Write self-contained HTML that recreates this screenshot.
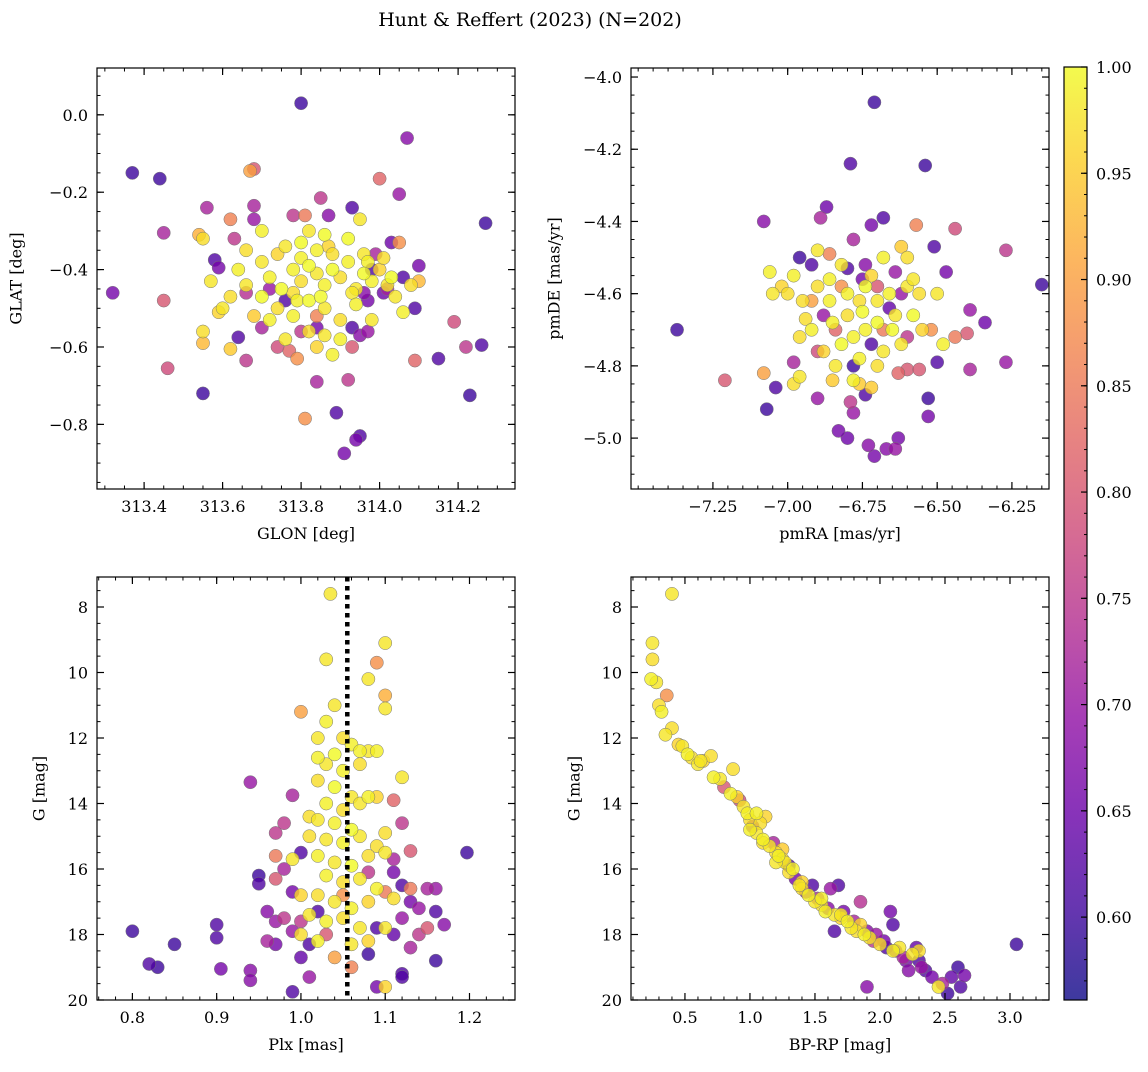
<!DOCTYPE html>
<html><head><meta charset="utf-8"><style>
html,body{margin:0;padding:0;background:#fff}
svg text{font-family:"DejaVu Serif","Liberation Serif",serif;fill:#000}
</style></head><body>
<svg id="fig" width="1148" height="1067" viewBox="0 0 1148 1067" xmlns="http://www.w3.org/2000/svg">
<text x="530" y="26" font-size="19" text-anchor="middle">Hunt &amp; Reffert (2023) (N=202)</text>
</svg>
<script>
// Panel 1: GLON / GLAT / prob
const p1 = [
[313.80,0.03,.6],[313.37,-0.15,.6],[313.44,-0.165,.6],[313.32,-0.46,.66],[314.27,-0.28,.6],[314.07,-0.06,.68],[313.68,-0.14,.8],[313.67,-0.145,.9],[314.0,-0.165,.82],[314.05,-0.205,.7],[313.45,-0.305,.72],[313.45,-0.48,.8],[313.46,-0.655,.78],[313.55,-0.72,.6],[313.81,-0.785,.88],[313.89,-0.77,.62],[313.91,-0.875,.66],[313.94,-0.84,.66],[313.95,-0.83,.62],[313.92,-0.685,.75],[313.84,-0.69,.72],[314.15,-0.63,.62],[314.23,-0.725,.6],[314.26,-0.595,.62],[314.19,-0.535,.78],[314.22,-0.6,.75],[314.09,-0.635,.82],[314.09,-0.5,.62],[314.1,-0.39,.66],[314.06,-0.42,.62],[314.03,-0.33,.65],[314.05,-0.33,.88],[313.56,-0.24,.72],[313.58,-0.375,.62],[313.59,-0.395,.66],[313.62,-0.27,.86],[313.63,-0.32,.75],[313.68,-0.235,.72],[313.68,-0.27,.7],[313.78,-0.26,.75],[313.81,-0.26,.85],[313.85,-0.215,.75],[313.87,-0.26,.68],[313.93,-0.24,.62],[313.95,-0.27,.98],[313.64,-0.575,.62],[313.66,-0.635,.75],[313.62,-0.605,.95],[313.55,-0.56,.97],[313.55,-0.59,.93],[313.54,-0.31,.92],[313.55,-0.32,.97],[313.57,-0.43,.98],[313.6,-0.5,.98],[313.59,-0.51,.96],
[313.70,-0.38,.98],[313.72,-0.42,.99],[313.75,-0.45,1],[313.78,-0.40,.99],[313.80,-0.43,.97],[313.82,-0.39,1],[313.84,-0.41,.98],[313.86,-0.44,.99],[313.88,-0.40,1],[313.90,-0.42,.97],[313.92,-0.38,.99],[313.94,-0.45,.98],[313.96,-0.41,1],[313.98,-0.43,.99],[314.00,-0.40,.96],[314.02,-0.44,.98],[313.74,-0.50,.97],[313.78,-0.52,.99],[313.82,-0.48,1],[313.86,-0.50,.98],[313.90,-0.53,.97],[313.94,-0.49,.99],[313.70,-0.47,1],[313.66,-0.44,.98],[313.68,-0.52,.95],[313.72,-0.53,.99],[313.76,-0.34,.98],[313.80,-0.33,1],[313.84,-0.35,.99],[313.88,-0.36,.97],[313.92,-0.32,1],[313.96,-0.36,.98],[313.66,-0.35,.97],[313.70,-0.30,.99],[313.74,-0.36,.96],[313.82,-0.30,.98],[313.86,-0.31,1],[313.90,-0.58,.99],[313.86,-0.57,.98],[313.82,-0.56,.97],[313.88,-0.62,.99],[313.84,-0.60,.96],[314.04,-0.47,.98],[314.06,-0.51,.99],[314.03,-0.42,1],[314.08,-0.44,.97],[314.10,-0.43,.93],[313.98,-0.53,.98],[313.64,-0.40,.99],[313.62,-0.47,.97],[313.76,-0.58,.98],[313.78,-0.46,.97],[313.80,-0.37,.99],[313.85,-0.47,1],[313.93,-0.46,.98],[313.97,-0.38,.99],[314.01,-0.37,.97],[313.87,-0.34,.96],[313.79,-0.48,.99],
[313.72,-0.45,.7],[313.76,-0.48,.62],[313.80,-0.56,.75],[313.84,-0.55,.66],[313.93,-0.55,.62],[313.97,-0.56,.7],[313.93,-0.60,.8],[313.96,-0.46,.68],[314.01,-0.46,.65],[313.70,-0.55,.72],[313.66,-0.46,.74],[313.74,-0.60,.78],[313.77,-0.61,.82],[313.79,-0.63,.88],[313.84,-0.52,.86],[313.98,-0.40,.62],[314.02,-0.45,.72],[313.97,-0.48,.66],[313.99,-0.36,.72],[313.95,-0.57,.68]
];
// Panel 2: pmRA / pmDE / prob
const p2 = [
[-6.71,-4.07,.6],[-6.79,-4.24,.62],[-6.54,-4.245,.6],[-7.37,-4.7,.6],[-6.15,-4.575,.6],[-6.27,-4.48,.75],[-6.27,-4.79,.7],[-6.34,-4.68,.65],[-6.39,-4.645,.7],[-6.4,-4.71,.8],[-6.39,-4.81,.72],[-6.44,-4.42,.78],[-6.47,-4.54,.66],[-6.51,-4.47,.62],[-6.5,-4.79,.62],[-6.53,-4.89,.6],[-6.53,-4.94,.66],[-6.57,-4.41,.86],[-7.08,-4.4,.68],[-6.89,-4.39,.72],[-6.87,-4.36,.65],[-6.72,-4.41,.66],[-6.68,-4.39,.62],[-7.21,-4.84,.8],[-7.07,-4.92,.6],[-7.04,-4.86,.62],[-7.08,-4.82,.9],[-6.98,-4.79,.72],[-6.9,-4.89,.7],[-6.83,-4.98,.66],[-6.8,-5.0,.65],[-6.73,-5.02,.68],[-6.71,-5.05,.66],[-6.67,-5.03,.68],[-6.64,-5.03,.7],[-6.63,-5.0,.66],[-6.78,-4.93,.7],[-6.79,-4.9,.75],[-6.74,-4.88,.62],[-6.6,-4.81,.8],[-6.56,-4.81,.8],[-6.63,-4.82,.82],[-6.76,-4.85,.95],
[-6.75,-4.65,1],[-6.80,-4.60,.99],[-6.70,-4.62,.98],[-6.85,-4.68,.99],[-6.65,-4.70,1],[-6.90,-4.58,.97],[-6.60,-4.58,.98],[-6.78,-4.72,.99],[-6.72,-4.55,.96],[-6.82,-4.52,.98],[-6.68,-4.50,.99],[-6.95,-4.62,.97],[-6.92,-4.70,.99],[-6.58,-4.66,1],[-6.62,-4.74,.98],[-6.88,-4.76,.96],[-6.76,-4.78,.99],[-6.70,-4.80,.97],[-6.84,-4.80,.98],[-6.98,-4.55,.99],[-7.0,-4.6,.97],[-7.02,-4.58,.96],[-7.05,-4.6,.98],[-6.66,-4.60,.99],[-6.74,-4.58,1],[-6.80,-4.66,.97],[-6.86,-4.62,.99],[-6.64,-4.66,.98],[-6.56,-4.60,.97],[-6.55,-4.70,.96],[-6.50,-4.60,.98],[-6.48,-4.74,.99],[-6.60,-4.50,.97],[-6.62,-4.47,.95],[-6.90,-4.48,.98],[-6.86,-4.56,.99],[-6.94,-4.67,.97],[-6.82,-4.74,1],[-6.78,-4.84,.99],[-6.72,-4.86,.95],[-6.68,-4.76,.98],[-6.74,-4.70,.99],[-6.76,-4.62,.97],[-6.70,-4.68,1],[-6.96,-4.72,.97],[-7.06,-4.54,.99],[-6.58,-4.56,.98],[-6.52,-4.70,.88],[-6.44,-4.72,.85],[-6.92,-4.62,.9],[-6.96,-4.83,.98],[-6.98,-4.85,.97],[-6.85,-4.84,.95],
[-6.80,-4.53,.62],[-6.75,-4.56,.66],[-6.72,-4.74,.62],[-6.78,-4.80,.6],[-6.88,-4.66,.7],[-6.66,-4.64,.64],[-6.62,-4.60,.7],[-6.70,-4.58,.8],[-6.84,-4.70,.82],[-6.90,-4.76,.78],[-6.60,-4.72,.75],[-6.64,-4.54,.7],[-6.78,-4.45,.72],[-6.74,-4.52,.68],[-6.86,-4.49,.86],[-6.92,-4.52,.62],[-6.96,-4.50,.6],[-6.68,-4.70,.85],[-6.82,-4.58,.88]
];
// Panel 3: Plx / G / prob
const p3 = [
[0.80,17.9,.6],[0.82,18.9,.62],[0.83,19.0,.6],[0.85,18.3,.6],[0.9,17.7,.62],[0.9,18.1,.62],[0.905,19.05,.66],[0.94,19.1,.68],[0.94,19.4,.68],[0.94,13.35,.7],[0.99,19.75,.62],[1.197,15.5,.6],[1.16,18.8,.6],[1.12,19.2,.62],[1.13,16.6,.85],[1.13,15.45,.8],[1.10,9.1,.98],[1.08,10.2,.98],[1.09,9.7,.88],[1.10,10.7,.92],[1.10,11.1,.98],[1.035,7.6,.98],[1.03,9.6,.98],[1.00,11.2,.9],[0.99,13.75,.72],[0.97,14.9,.75],[0.97,15.6,.85],[0.95,16.2,.6],[0.95,16.45,.62],[1.10,19.6,.96],[1.09,19.6,.66],
[1.04,11.0,.98],[1.03,11.5,.99],[1.05,12.0,.97],[1.02,12.0,.98],[1.06,12.2,.99],[1.04,12.5,1],[1.03,12.8,.98],[1.05,13.0,.99],[1.07,12.8,.97],[1.08,12.4,.98],[1.09,12.4,.99],[1.02,13.3,.97],[1.04,13.5,1],[1.06,13.8,.98],[1.03,14.0,.99],[1.05,14.2,.97],[1.07,14.0,.98],[1.08,13.8,.99],[1.09,13.8,.96],[1.02,14.5,.98],[1.04,14.6,.99],[1.06,14.8,1],[1.01,15.0,.97],[1.03,15.1,.98],[1.05,15.2,.99],[1.07,15.0,.98],[1.09,15.3,.97],[1.02,15.6,.99],[1.04,15.8,.98],[1.06,15.9,1],[1.08,15.6,.97],[1.10,15.5,.98],[1.03,16.2,.99],[1.05,16.4,.97],[1.07,16.3,.98],[1.09,16.6,.99],[1.02,16.8,.97],[1.04,17.0,.98],[1.06,17.2,.99],[1.08,17.0,.96],[1.01,17.4,.98],[1.03,17.6,.99],[1.05,17.5,.97],[1.07,17.8,.98],[1.00,18.0,.97],[1.02,18.2,.99],[1.06,18.3,.98],[1.08,18.2,.96],[1.04,18.7,.9],[1.10,17.8,.98],[1.11,16.9,.97],[1.12,13.2,.98],[1.07,12.4,.99],[1.10,14.9,.97],[1.00,16.8,.96],[0.99,15.7,.98],[1.01,14.4,.97],[1.02,12.6,.99],
[0.96,17.3,.68],[0.97,17.6,.7],[0.98,17.5,.75],[0.96,18.2,.72],[0.97,18.3,.66],[0.99,17.9,.7],[1.0,17.6,.75],[1.01,18.3,.62],[1.0,18.7,.64],[0.99,16.7,.66],[1.0,15.5,.62],[0.98,16.0,.72],[0.97,16.3,.8],[1.01,19.3,.7],[1.02,17.3,.62],[1.12,16.5,.62],[1.13,17.0,.66],[1.14,17.2,.7],[1.15,16.6,.72],[1.16,17.3,.62],[1.17,17.7,.68],[1.11,18.0,.64],[1.12,17.5,.7],[1.13,18.4,.72],[1.14,18.0,.75],[1.15,17.8,.8],[1.11,16.1,.66],[1.11,15.7,.72],[1.08,16.1,.75],[1.1,16.7,.85],[1.12,14.6,.75],[1.11,13.9,.82],[1.12,19.3,.62],[1.16,16.6,.7],[0.98,14.6,.75],[1.09,17.8,.62],[1.08,18.6,.6],[1.06,19.0,.86],[1.03,18.0,.8],[1.05,16.8,.88]
];
// Panel 4: BP-RP / G / prob
const p4 = [
[0.4,7.6,.98],[0.25,9.1,.98],[0.25,9.6,.97],[0.24,10.2,.99],[0.28,10.3,.98],[0.3,11.0,.97],[0.36,10.7,.88],[0.32,11.2,.99],[0.35,11.9,.98],[0.4,11.7,.97],[0.45,12.2,.96],[0.48,12.25,.98],[0.52,12.5,.99],[0.55,12.6,.97],[0.6,12.8,.98],[0.64,12.7,.96],[0.7,12.55,.97],[0.72,13.2,.99],[0.77,13.25,.98],[0.8,13.5,.8],[0.87,12.95,.97],[0.9,13.8,.96],[0.92,13.9,.78],[0.95,14.1,.98],[0.98,14.3,.99],[1.0,14.5,.97],[1.02,14.7,.7],[1.05,14.9,.98],[1.08,14.6,.97],[1.1,15.1,.99],[1.12,14.4,.96],[1.15,15.3,.98],[1.18,15.2,.72],[1.2,15.5,.97],[1.22,15.6,.99],[1.25,15.4,.95],[1.27,15.8,.98],[1.3,15.9,.62],[1.3,16.1,.97],[1.33,16.0,.99],[1.35,16.3,.66],[1.38,16.5,.98],[1.4,16.4,.96],[1.43,16.7,.7],[1.45,16.8,.99],[1.48,16.5,.62],[1.5,17.0,.98],[1.52,16.9,.72],[1.55,17.1,.97],[1.58,17.3,.99],[1.6,17.2,.68],[1.62,16.6,.7],[1.65,17.4,.98],[1.68,16.5,.62],[1.7,17.5,.96],[1.72,17.3,.66],[1.75,17.6,.99],[1.78,17.8,.98],[1.8,17.6,.72],[1.82,17.9,.97],[1.85,17.0,.74],[1.88,18.0,.99],[1.9,17.9,.68],[1.92,18.1,.98],[1.95,18.2,.75],[1.97,18.0,.7],[2.0,18.3,.97],[2.03,18.2,.66],[2.05,18.4,.62],[2.08,17.3,.66],[2.1,17.7,.62],[2.12,18.5,.7],[2.15,18.4,.98],[2.18,18.7,.72],[2.2,18.8,.66],[2.22,19.1,.68],[2.25,18.6,.98],[2.28,18.4,.64],[2.3,18.8,.62],[2.32,19.0,.7],[2.35,19.1,.62],[2.4,19.3,.66],[2.45,19.6,.98],[2.48,19.5,.72],[2.52,19.8,.6],[2.55,19.3,.64],[2.6,19.0,.6],[2.62,19.6,.62],[2.65,19.25,.66],[3.05,18.3,.6],[1.9,19.6,.68],[1.65,17.9,.62],[1.2,15.8,.98],[1.0,14.8,.99],[1.1,15.2,.97],[1.4,16.6,.97],[1.7,17.4,.98],[0.62,12.7,.98],[0.85,13.7,.99],[1.05,14.3,.99],[1.25,15.7,.97],[1.55,16.9,.99],[1.85,17.7,.96],[2.1,18.5,.99],[2.3,18.5,.97]
];
const cbTicks = [0.60,0.65,0.70,0.75,0.80,0.85,0.90,0.95,1.00];
const meanPlx = 1.055;
const VMIN = 0.561, VMAX = 1.0;

const NS = "http://www.w3.org/2000/svg";
const svg = document.getElementById('fig');
function mk(tag, attrs, parent){const e=document.createElementNS(NS,tag);for(const k in attrs)e.setAttribute(k,attrs[k]);(parent||svg).appendChild(e);return e;}
const stops=[[0,13,8,135],[.1,65,4,157],[.2,106,0,168],[.3,143,13,164],[.4,177,42,144],[.5,204,71,120],[.6,225,100,98],[.7,242,132,75],[.8,252,166,54],[.9,252,206,37],[1,240,249,33]];
function plasma(t){t=Math.max(0,Math.min(1,t));for(let i=1;i<stops.length;i++){if(t<=stops[i][0]){const a=stops[i-1],b=stops[i],f=(t-a[0])/(b[0]-a[0]);return `rgb(${Math.round(a[1]+f*(b[1]-a[1]))},${Math.round(a[2]+f*(b[2]-a[2]))},${Math.round(a[3]+f*(b[3]-a[3]))})`;}}return 'rgb(240,249,33)';}

const panels = [
 {name:'sky',data:p1,box:[97,68,515,489],xd:[313.28,314.345],yd:[0.121,-0.967],xt:[313.4,313.6,313.8,314.0,314.2],xm:0.05,yt:[0.0,-0.2,-0.4,-0.6,-0.8],ym:0.05,xl:'GLON [deg]',yl:'GLAT [deg]',ylx:17,xf:v=>v.toFixed(1),yf:v=>(v<0?'\u2212':'')+Math.abs(v).toFixed(1)},
 {name:'proper-motion',data:p2,box:[631,68,1049,489],xd:[-7.524,-6.126],yd:[-3.975,-5.141],xt:[-7.25,-7.0,-6.75,-6.5,-6.25],xm:0.05,yt:[-4.0,-4.2,-4.4,-4.6,-4.8,-5.0],ym:0.05,xl:'pmRA [mas/yr]',yl:'pmDE [mas/yr]',ylx:555,xf:v=>'\u2212'+Math.abs(v).toFixed(2),yf:v=>'\u2212'+Math.abs(v).toFixed(1)},
 {name:'parallax-mag',data:p3,box:[97,577,515,1000],xd:[0.758,1.254],yd:[7.084,20],xt:[0.8,0.9,1.0,1.1,1.2],xm:0.02,yt:[8,10,12,14,16,18,20],ym:0.5,xl:'Plx [mas]',yl:'G [mag]',ylx:40,xf:v=>v.toFixed(1),yf:v=>String(v)},
 {name:'cmd',data:p4,box:[631,577,1049,1000],xd:[0.085,3.30],yd:[7.084,20],xt:[0.5,1.0,1.5,2.0,2.5,3.0],xm:0.1,yt:[8,10,12,14,16,18,20],ym:0.5,xl:'BP-RP [mag]',yl:'G [mag]',ylx:575,xf:v=>v.toFixed(1),yf:v=>String(v)}
];

panels.forEach(p=>{
 const [x0,y0,x1,y1]=p.box;
 const sx=v=>x0+(v-p.xd[0])/(p.xd[1]-p.xd[0])*(x1-x0);
 const sy=v=>y0+(v-p.yd[0])/(p.yd[1]-p.yd[0])*(y1-y0);
 const g=mk('g',{});
 
 
 const clipId='clip-'+p.name;
 const cp=mk('clipPath',{id:clipId},g);mk('rect',{x:x0,y:y0,width:x1-x0,height:y1-y0},cp);
 const pts=mk('g',{'clip-path':`url(#${clipId})`},g);
 
 
 const sorted=p.data.slice().sort((a,b)=>a[2]-b[2]);
 sorted.forEach(d=>{
  const c=mk('circle',{cx:sx(d[0]),cy:sy(d[1]),r:6.6,fill:plasma((d[2]-VMIN)/(VMAX-VMIN)),'fill-opacity':0.8,stroke:'#777','stroke-width':0.5},pts);
  
  
 });
 if(p.name==='parallax-mag'){
  const l=mk('line',{x1:sx(meanPlx),x2:sx(meanPlx),y1:y0,y2:y1,stroke:'#000','stroke-width':4.5,'stroke-dasharray':'4.5,4.5'},g);
  
  
 }
 const xmin=Math.min(...p.xd),xmax=Math.max(...p.xd),ymin=Math.min(...p.yd),ymax=Math.max(...p.yd);
 for(let v=Math.ceil(xmin/p.xm)*p.xm;v<=xmax;v+=p.xm){const X=sx(v);mk('line',{x1:X,x2:X,y1:y1,y2:y1-3.5,stroke:'#000','stroke-width':1},g);mk('line',{x1:X,x2:X,y1:y0,y2:y0+3.5,stroke:'#000','stroke-width':1},g);}
 for(let v=Math.ceil(ymin/p.ym)*p.ym;v<=ymax;v+=p.ym){const Y=sy(v);mk('line',{x1:x0,x2:x0+3.5,y1:Y,y2:Y,stroke:'#000','stroke-width':1},g);mk('line',{x1:x1,x2:x1-3.5,y1:Y,y2:Y,stroke:'#000','stroke-width':1},g);}
 p.xt.forEach(v=>{const X=sx(v);mk('line',{x1:X,x2:X,y1:y1,y2:y1-7,stroke:'#000','stroke-width':1.2},g);mk('line',{x1:X,x2:X,y1:y0,y2:y0+7,stroke:'#000','stroke-width':1.2},g);
  const t=mk('text',{x:X,y:y1+23,'font-size':16,'text-anchor':'middle'},g);t.textContent=p.xf(v);
  
  });
 p.yt.forEach(v=>{const Y=sy(v);mk('line',{x1:x0,x2:x0+7,y1:Y,y2:Y,stroke:'#000','stroke-width':1.2},g);mk('line',{x1:x1,x2:x1-7,y1:Y,y2:Y,stroke:'#000','stroke-width':1.2},g);
  const t=mk('text',{x:x0-9,y:Y+6,'font-size':16,'text-anchor':'end'},g);t.textContent=p.yf(v);
  
  });
 const fr=mk('rect',{x:x0,y:y0,width:x1-x0,height:y1-y0,fill:'none',stroke:'#000','stroke-width':1.2},g);
 
 
 const xl=mk('text',{x:(x0+x1)/2,y:y1+50,'font-size':16,'text-anchor':'middle'},g);xl.textContent=p.xl;
 
 
 const yc=(y0+y1)/2;
 const yl=mk('text',{x:p.ylx,y:yc,'font-size':16,'text-anchor':'middle',transform:`rotate(-90 ${p.ylx} ${yc})`,'dominant-baseline':'middle'},g);yl.textContent=p.yl;
 
 
});

(function(){
 const cx0=1064,cx1=1087,cy0=67,cy1=1000;
 const g=mk('g',{});
 
 
 const defs=mk('defs',{},g);
 const lg=mk('linearGradient',{id:'cbg',x1:0,y1:1,x2:0,y2:0},defs);
 stops.forEach(s=>mk('stop',{offset:s[0],'stop-color':`rgb(${s[1]},${s[2]},${s[3]})`},lg));
 mk('rect',{x:cx0,y:cy0,width:cx1-cx0,height:cy1-cy0,fill:'url(#cbg)','fill-opacity':0.8},g);
 const sy=v=>cy1-(v-VMIN)/(VMAX-VMIN)*(cy1-cy0);
 for(let v=0.57;v<=1.0001;v+=0.01){const Y=sy(v);mk('line',{x1:cx1,x2:cx1-3,y1:Y,y2:Y,stroke:'#000','stroke-width':1},g);}
 cbTicks.forEach(v=>{const Y=sy(v);mk('line',{x1:cx1,x2:cx1-6,y1:Y,y2:Y,stroke:'#000','stroke-width':1.2},g);
  const t=mk('text',{x:cx1+9,y:Y+6,'font-size':16},g);t.textContent=v.toFixed(2);
  
  });
 mk('rect',{x:cx0,y:cy0,width:cx1-cx0,height:cy1-cy0,fill:'none',stroke:'#000','stroke-width':1.2},g);
})();
</script>
</body></html>
